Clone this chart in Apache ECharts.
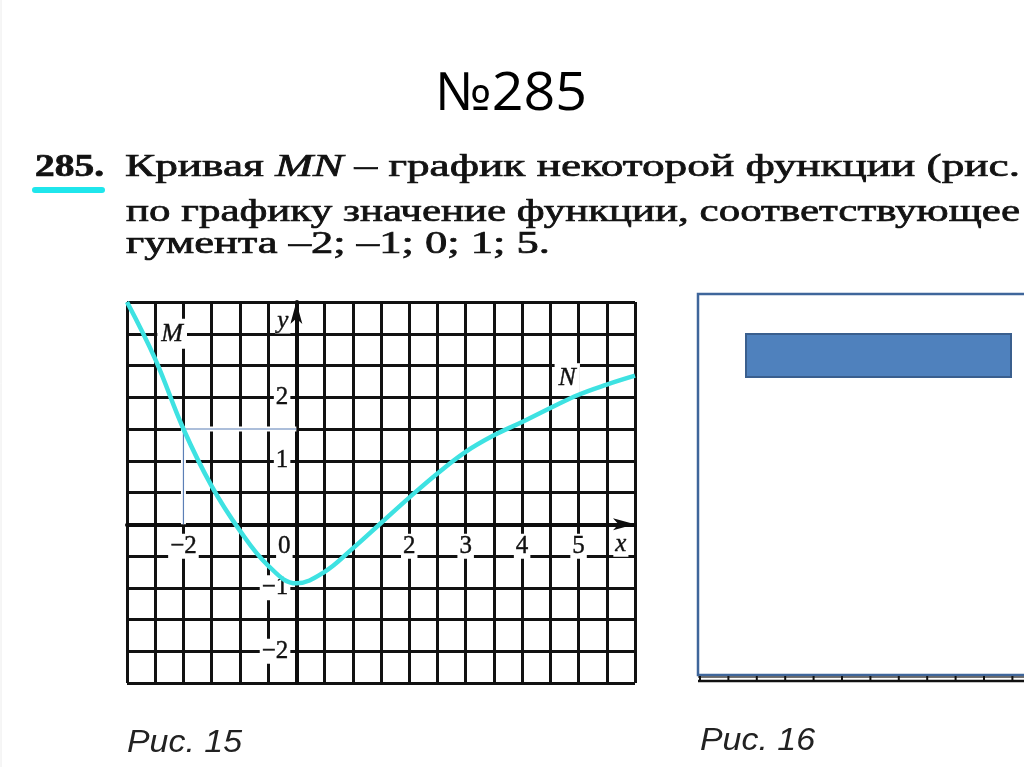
<!DOCTYPE html>
<html>
<head>
<meta charset="utf-8">
<script src="https://cdn.jsdelivr.net/npm/echarts@6/dist/echarts.min.js"></script>
<style>
  html, body { margin: 0; padding: 0; background: #ffffff; }
  #chart { width: 1024px; height: 767px; }
</style>
</head>
<body>
<div id="chart"></div>
<script>
// ---- data ----
const curveX = [-3, -2.5, -2, -1.5, -1, -0.5, 0, 0.5, 1, 1.5, 2, 2.5, 3, 3.5, 4, 4.5, 5, 5.5, 6];
const curveY = [3.5, 2.6, 1.5, 0.6, -0.1, -0.65, -0.93, -0.75, -0.38, 0.02, 0.42, 0.8, 1.14, 1.4, 1.61, 1.83, 2.04, 2.2, 2.34];
const guideX = [-2, -2, 0];
const guideY = [0, 1.5, 1.5];
const xTickValues = [-2, 0, 2, 3, 4, 5];
const xTickLabels = ['−2', '0', '2', '3', '4', '5'];
const yTickValues = [2, 1, -1, -2];
const yTickLabels = ['2', '1', '−1', '−2'];
const pointNames = ['M', 'N'];
const pointX = [-2.2, 4.8];
const pointY = [3.0, 2.3];
const axisNameX = 'x', axisNameXPos = 5.75;
const axisNameY = 'y', axisNameYPos = 3.2;

const titleText = '№285';
const taskNumber = '285.';
const line1Parts = ['Кривая ', 'MN', ' – график некоторой функции (рис.'];
const line2 = 'по графику значение функции, соответствующее';
const line3 = 'гумента –2; –1; 0; 1; 5.';
const caption15 = 'Рис. 15';
const caption16 = 'Рис. 16';

// ---- text measuring helper (for fitting scanned-text widths) ----
const mctx = document.createElement('canvas').getContext('2d');
function tw(text, font) { mctx.font = font; return mctx.measureText(text).width; }

const SERIF = '"Liberation Serif", "DejaVu Serif", serif';
const fs = 31;
const fReg = fs + 'px ' + SERIF;
const fIt = 'italic ' + fs + 'px ' + SERIF;
const fBold = 'bold ' + fs + 'px ' + SERIF;

const l1w = tw(line1Parts[0], fReg) + tw(line1Parts[1], fIt) + tw(line1Parts[2], fReg);
const sL1 = (1020 - 125) / l1w;
const sNum = (104 - 35) / tw(taskNumber, fBold);
const sL2 = (1020 - 126) / tw(line2, fReg);
const sL3 = (550 - 126) / tw(line3, fReg);
const titleFont = '53px "Open Sans", "Noto Sans", sans-serif';
const sTitle = 152 / tw(titleText, titleFont);
const capFont = 'italic 31px "Liberation Sans", Arial, sans-serif';
const sCap = 115 / tw(caption15, capFont);

const textColor = '#121212';
const heavy = { stroke: '#121212', lineWidth: 0.7 };

const chart = echarts.init(document.getElementById('chart'), null, { renderer: 'canvas' });

const axisCommon = {
  type: 'value',
  axisLine: { onZero: true, lineStyle: { color: '#0d0d0d', width: 4 }, symbol: ['none', 'arrow'], symbolSize: [9, 22] },
  axisTick: { show: false },
  axisLabel: { show: false },
  splitLine: { show: true, lineStyle: { color: '#111', width: 3 } }
};

const labelFont = { fontFamily: SERIF, fontSize: 25, color: '#111', backgroundColor: '#ffffff', padding: [0, 2], textBorderColor: '#111', textBorderWidth: 0.4 };

const xLabelData = xTickValues.map((v, i) => ({
  value: [v, 0],
  label: { formatter: xTickLabels[i], offset: [v === 0 ? -12 : 0, 22] }
}));
xLabelData.push({ value: [axisNameXPos, 0], label: { formatter: axisNameX, fontStyle: 'italic', offset: [0, 20] } });

const yLabelData = yTickValues.map((v, i) => ({
  value: [0, v],
  label: { formatter: yTickLabels[i] }
}));
yLabelData.push({ value: [0, axisNameYPos], label: { formatter: axisNameY, fontStyle: 'italic' } });

const pointData = pointNames.map((n, i) => ({ value: [pointX[i], pointY[i]], label: { formatter: n } }));

const labelSeries = (name, data, label) => ({
  name, type: 'scatter', symbolSize: 0, silent: true, z: 5,
  itemStyle: { opacity: 1 }, data, label
});

const option = {
  backgroundColor: '#ffffff',
  animation: false,
  grid: { left: 127, top: 302, width: 508, height: 381 },
  xAxis: Object.assign({}, axisCommon, { min: -3, max: 6, interval: 0.5 }),
  yAxis: Object.assign({}, axisCommon, { min: -2.5, max: 3.5, interval: 0.5 }),
  series: [
    {
      name: 'guide-bg', type: 'line', silent: true, symbol: 'none', z: 3,
      data: guideX.map((x, i) => [x, guideY[i]]),
      lineStyle: { color: '#ffffff', width: 5 }
    },
    {
      name: 'guide', type: 'line', silent: true, symbol: 'none', z: 4,
      data: guideX.map((x, i) => [x, guideY[i]]),
      lineStyle: { color: '#5b7fb6', width: 1.2 }
    },
    {
      name: 'MN', type: 'line', smooth: 0.4, symbol: 'none', z: 6,
      data: curveX.map((x, i) => [x, curveY[i]]),
      lineStyle: { color: '#3ee2e2', width: 4.5 }
    },
    labelSeries('xlabels', xLabelData, Object.assign({ show: true, position: 'inside' }, labelFont)),
    labelSeries('ylabels', yLabelData, Object.assign({ show: true, position: 'left', distance: 6 }, labelFont)),
    labelSeries('points', pointData, Object.assign({ show: true, position: 'inside' }, labelFont, { fontStyle: 'italic', fontSize: 26, padding: [2, 4] }))
  ],
  graphic: [
    { type: 'line', shape: { x1: 1, y1: 0, x2: 1, y2: 767 }, style: { stroke: '#ececec', lineWidth: 1 }, silent: true },
    { type: 'text', x: 511, y: 95, scaleX: sTitle, style: { text: titleText, font: titleFont, fill: '#000', align: 'center', verticalAlign: 'middle' } },
    { type: 'text', x: 35, y: 168, scaleX: sNum, style: Object.assign({ text: taskNumber, font: fBold, fill: textColor, verticalAlign: 'middle' }, heavy) },
    { type: 'rect', shape: { x: 32, y: 187, width: 73, height: 6, r: 3 }, style: { fill: '#1fe6ec' } },
    { type: 'text', x: 125, y: 168, scaleX: sL1, style: Object.assign({
        text: line1Parts[0] + '{i|' + line1Parts[1] + '}' + line1Parts[2],
        font: fReg, fill: textColor, verticalAlign: 'middle',
        rich: { i: { fontStyle: 'italic', fontSize: fs, fontFamily: SERIF, fill: textColor } } }, heavy) },
    { type: 'text', x: 126, y: 213, scaleX: sL2, style: Object.assign({ text: line2, font: fReg, fill: textColor, verticalAlign: 'middle' }, heavy) },
    { type: 'text', x: 126, y: 245, scaleX: sL3, style: Object.assign({ text: line3, font: fReg, fill: textColor, verticalAlign: 'middle' }, heavy) },
    { type: 'text', x: 127, y: 743, scaleX: sCap, style: { text: caption15, font: capFont, fill: '#222', verticalAlign: 'middle' } },
    { type: 'text', x: 700, y: 741, scaleX: sCap, style: { text: caption16, font: capFont, fill: '#222', verticalAlign: 'middle' } },
    // covered picture (Рис. 16)
    { type: 'rect', shape: { x: 698, y: 294, width: 340, height: 381 }, style: { fill: '#ffffff', stroke: '#3f669b', lineWidth: 2.5 } },
    { type: 'rect', shape: { x: 746, y: 334, width: 265, height: 43 }, style: { fill: '#4f81bd', stroke: '#3a5f8e', lineWidth: 2 } },
    { type: 'line', shape: { x1: 698, y1: 677, x2: 1024, y2: 677 }, style: { stroke: '#444', lineWidth: 1.5 } },
    { type: 'line', shape: { x1: 698, y1: 681, x2: 1024, y2: 681 }, style: { stroke: '#111', lineWidth: 2.5 } }
  ].concat(Array.from({ length: 12 }, (_, k) => ({
    type: 'line', shape: { x1: 700 + k * 28.4, y1: 676, x2: 700 + k * 28.4, y2: 682 }, style: { stroke: '#111', lineWidth: 2 }
  })))
};

chart.setOption(option);
</script>
</body>
</html>
